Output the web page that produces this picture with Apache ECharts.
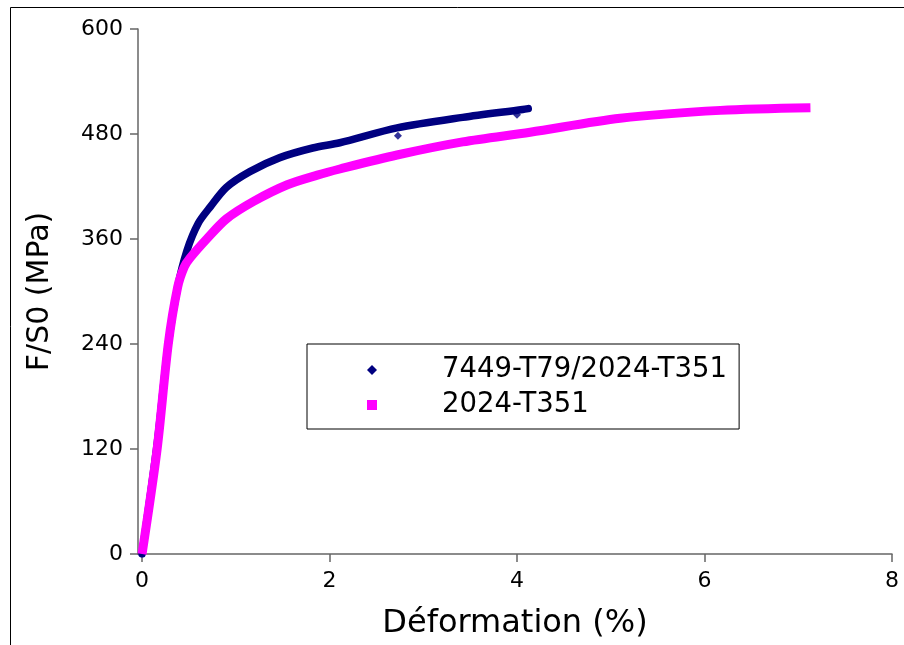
<!DOCTYPE html>
<html>
<head>
<meta charset="utf-8">
<script src="https://cdn.jsdelivr.net/npm/echarts@6/dist/echarts.min.js"></script>
<style>html,body{margin:0;padding:0;background:#fff}#c{width:904px;height:645px}</style>
</head>
<body>
<div id="c"></div>
<script>
const seriesNames = ['7449-T79/2024-T351', '2024-T351'];
const navyX = [0, 0.16, 0.28, 0.38, 0.48, 0.60, 0.73, 0.90, 1.15, 1.47, 1.82, 2.11, 2.72, 3.42, 4.06, 4.12];
const navyY = [0, 125, 240, 305, 347, 378, 397, 419, 437, 453, 464, 470, 487, 499, 508, 509];
const magentaX = [0, 0.16, 0.28, 0.38, 0.45, 0.51, 0.69, 0.90, 1.19, 1.55, 1.87, 2.11, 2.72, 3.42, 4.14, 5.10, 6.17, 7.13];
const magentaY = [0, 119, 240, 305, 328, 338, 360, 383, 403, 422, 433, 440, 456, 471, 482, 498, 507, 510];
const navyStrayX = [2.73, 4.0];
const navyStrayY = [478, 502];
const xTicks = [0, 2, 4, 6, 8];
const yTicks = [0, 120, 240, 360, 480, 600];

const zip = (a, b) => a.map((v, i) => [v, b[i]]);
const FONT = 'DejaVu Sans';
const chart = echarts.init(document.getElementById('c'), null, {renderer: 'canvas'});
chart.setOption({
  animation: false,
  backgroundColor: '#fff',
  textStyle: {fontFamily: FONT, color: '#000'},
  graphic: [{
    type: 'rect', silent: true, z: -1,
    shape: {x: 10.5, y: 7.5, width: 1000, height: 1000},
    style: {fill: 'none', stroke: '#000', lineWidth: 1}
  }],
  grid: {left: 138, right: 12, top: 29, bottom: 91},
  xAxis: {
    type: 'value', min: -0.043, max: 8,
    name: 'Déformation (%)', nameLocation: 'middle', nameGap: 54,
    nameTextStyle: {fontSize: 32, color: '#000', fontFamily: FONT},
    axisLine: {show: true, onZero: false, lineStyle: {color: '#666', width: 1.5}},
    axisTick: {show: true, length: 8, customValues: xTicks, lineStyle: {color: '#666', width: 1.5}},
    axisLabel: {customValues: xTicks, fontSize: 22, color: '#000', margin: 16, fontFamily: FONT},
    splitLine: {show: false}
  },
  yAxis: {
    type: 'value', min: 0, max: 600, interval: 120,
    name: 'F/S0 (MPa)', nameLocation: 'middle', nameGap: 83, nameRotate: 90,
    nameTextStyle: {fontSize: 30, color: '#000', fontFamily: FONT},
    axisLine: {show: true, onZero: false, lineStyle: {color: '#666', width: 1.5}},
    axisTick: {show: true, length: 8, lineStyle: {color: '#666', width: 1.5}},
    axisLabel: {fontSize: 22, color: '#000', margin: 15, fontFamily: FONT},
    splitLine: {show: false}
  },
  legend: {
    orient: 'vertical', left: 307, top: 344,
    padding: [12, 12, 10, 60],
    borderColor: '#000', borderWidth: 1,
    itemWidth: 10, itemHeight: 10, itemGap: 7,
    data: [{name: seriesNames[0], icon: 'diamond'}, {name: seriesNames[1], icon: 'rect'}],
    textStyle: {fontSize: 27.5, color: '#000', fontFamily: FONT, padding: [0, 0, 0, 60]}
  },
  series: [
    {
      name: seriesNames[0], type: 'line', data: zip(navyX, navyY),
      showSymbol: false, smooth: 0.3,
      color: '#000080',
      lineStyle: {color: '#000080', width: 7.5, cap: 'round'}, z: 2
    },
    {
      name: seriesNames[0], type: 'scatter', data: zip(navyStrayX, navyStrayY),
      symbol: 'diamond', symbolSize: 8, itemStyle: {color: '#000080'}, z: 2
    },
    {
      name: seriesNames[1], type: 'line', data: zip(magentaX, magentaY),
      showSymbol: false, smooth: 0.3,
      color: '#ff00ff',
      lineStyle: {color: '#ff00ff', width: 9, cap: 'butt'}, z: 3
    }
  ]
});
</script>
</body>
</html>
